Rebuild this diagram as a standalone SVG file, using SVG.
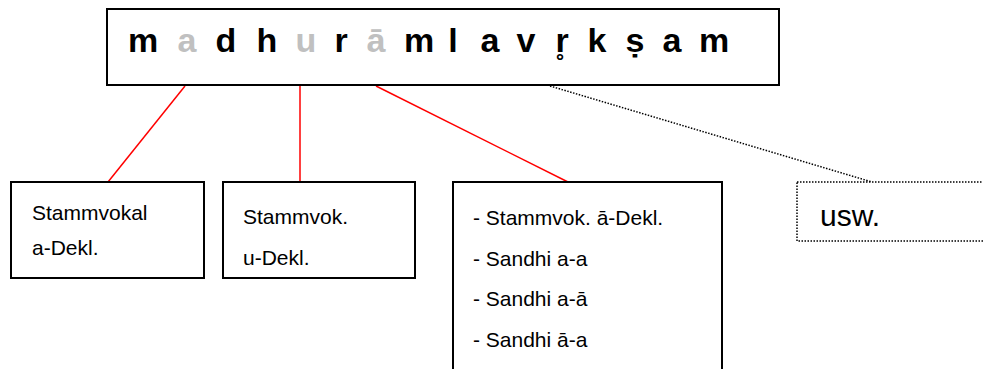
<svg xmlns="http://www.w3.org/2000/svg" width="983" height="369" viewBox="0 0 983 369">
<style>
.box{fill:#fff;stroke:#000;stroke-width:2}
.dot{fill:#fff;stroke:#000;stroke-width:1.5;stroke-dasharray:1.5 1.5}
.red{stroke:#f00;stroke-width:1.5;fill:none}
.dl{stroke:#000;stroke-width:1.5;stroke-dasharray:1.5 1.5;fill:none}
.t{font-family:"Liberation Sans",Arial,sans-serif;font-size:21px;fill:#000}
.h{font-family:"Liberation Sans",Arial,sans-serif;font-size:34px;font-weight:bold;fill:#000;text-anchor:middle}
.g{fill:#c0c0c0}
</style>
<rect width="983" height="369" fill="#fff"/>
<g id="connectors">
<line class="red" x1="185" y1="86" x2="108" y2="182"/>
<line class="red" x1="300" y1="86" x2="300" y2="182"/>
<line class="red" x1="376" y1="86" x2="568" y2="182"/>
<line class="dl" x1="550" y1="86" x2="872" y2="182"/>
</g>
<g id="root">
<rect class="box" x="107" y="9" width="672" height="76"/>
<text class="h" y="52"><tspan x="143">m</tspan><tspan x="187" class="g">a</tspan><tspan x="226">d</tspan><tspan x="267">h</tspan><tspan x="306" class="g">u</tspan><tspan x="341">r</tspan><tspan x="376" class="g">ā</tspan><tspan x="419">m</tspan><tspan x="453">l</tspan><tspan x="490">a</tspan><tspan x="526">v</tspan><tspan x="562">r&#x325;</tspan><tspan x="597">k</tspan><tspan x="635">ṣ</tspan><tspan x="672">a</tspan><tspan x="714">m</tspan></text>
</g>
<g id="node-a">
<rect class="box" x="11" y="182" width="193" height="96"/>
<text class="t" x="32" y="220">Stammvokal</text>
<text class="t" x="32" y="255">a-Dekl.</text>
</g>
<g id="node-u">
<rect class="box" x="223" y="182" width="192" height="96"/>
<text class="t" x="243" y="224">Stammvok.</text>
<text class="t" x="243" y="265">u-Dekl.</text>
</g>
<g id="node-aa">
<rect class="box" x="453" y="182" width="269" height="200"/>
<text class="t" x="473" y="225">- Stammvok. ā-Dekl.</text>
<text class="t" x="473" y="266">- Sandhi a-a</text>
<text class="t" x="473" y="306">- Sandhi a-ā</text>
<text class="t" x="473" y="347">- Sandhi ā-a</text>
</g>
<g id="node-usw">
<rect class="dot" x="797" y="182" width="200" height="59"/>
<text class="t" x="820" y="226" style="font-size:30px">usw.</text>
</g>
</svg>
